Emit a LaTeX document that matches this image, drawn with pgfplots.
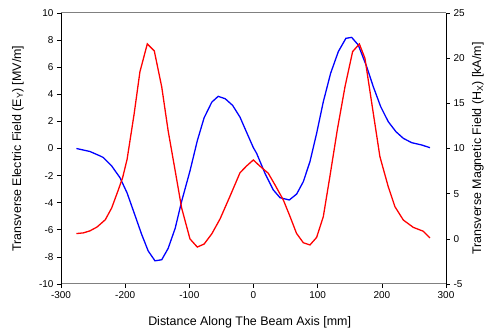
\documentclass[border=0pt]{standalone}
\usepackage{pgfplots}
\pgfplotsset{compat=1.18}
\usepackage{fontspec}
\setmainfont{Liberation Sans}
\begin{document}
\begin{tikzpicture}
\pgfplotsset{
  common/.style={
    width=385bp, height=271bp, scale only axis,
    xmin=-300, xmax=300,
    /pgf/number format/assume math mode=true,
    tick label style={font=\fontsize{10}{12}\selectfont},
    tick align=outside, major tick length=4bp,
    separate axis lines,
    every tick/.style={black, line width=0.6pt},
  }
}
\begin{axis}[common,
  axis x line=box, axis y line*=left,
  x axis line style={gray, line width=1pt},
  y axis line style={black, line width=0.8pt},
  xtick={-300,-200,...,300}, xtick pos=bottom,
  ymin=-10, ymax=10, ytick={-10,-8,...,10}, ytick pos=left,
  xlabel={Distance Along The Beam Axis [mm]},
  ylabel={Transverse Electric Field (E\textsubscript{Y}) [MV/m]},
  xlabel style={at={(axis description cs:0.49,0)}, anchor=center, yshift=-38bp, font=\fontsize{12.5}{14}\selectfont},
  ylabel style={at={(axis description cs:-0.112,0.5)}, anchor=center, font=\fontsize{12.5}{14}\selectfont},
  clip=false,
]
\addplot[blue, line width=1.3pt] coordinates {
(-276,0.00) (-255,-0.22) (-239,-0.55) (-234,-0.67) (-221,-1.29) (-208,-2.16)
(-197,-3.28) (-185,-4.89) (-174,-6.38) (-164,-7.57) (-153.5,-8.29) (-143,-8.21)
(-133,-7.37) (-122,-5.88) (-112,-3.90) (-99,-1.66) (-87.6,0.57) (-77,2.26)
(-65,3.42) (-55,3.85) (-44,3.67) (-32.5,3.18) (-21,2.31) (-10.7,1.19)
(-0.3,0.07) (4.9,-0.36) (17.9,-1.83) (30.9,-3.06) (41.3,-3.63) (55.8,-3.80)
(67.3,-3.36) (77.6,-2.45) (88,-0.97) (98.4,1.12) (108.8,3.45) (120.2,5.55)
(132.2,7.15) (144,8.13) (153,8.20) (163.3,7.64) (176.4,6.04) (186.7,4.56)
(198.2,3.09) (210,1.98) (222,1.24) (233.5,0.75) (246.5,0.43) (262,0.26) (275,0.06)
};
\path (axis description cs:0,0) ++(-61bp,-46bp) rectangle ++(488bp,330bp);
\end{axis}
\begin{axis}[common,
  axis x line=none, axis y line*=right,
  y axis line style={black, line width=0.8pt},
  ymin=-5, ymax=25, ytick={-5,0,...,25}, ytick pos=right,
  ylabel={Transverse Magnetic Field (H\textsubscript{X}) [kA/m]},
  ylabel style={at={(axis description cs:1.083,0.5)}, anchor=center, rotate=0, font=\fontsize{12.5}{14}\selectfont},
]
\addplot[red, line width=1.3pt] coordinates {
(-276,0.58) (-265,0.66) (-255,0.88) (-244,1.30) (-231,2.11) (-221,3.42)
(-211,5.35) (-204,6.76) (-197,8.80) (-186,13.84) (-177,18.49) (-165.5,21.58)
(-154.6,20.80) (-143,16.81) (-133,11.95) (-122,7.51) (-112,3.42) (-99,-0.01)
(-87.6,-0.91) (-77,-0.58) (-65,0.55) (-52,2.22) (-36.6,4.72) (-21,7.32)
(-10.7,8.07) (-0.3,8.73) (10,8.05) (23,7.26) (33.5,5.97) (46.5,4.30)
(57,2.46) (67,0.61) (77.6,-0.43) (88,-0.68) (98.4,0.16) (108.8,2.46)
(119,6.88) (130.6,12.06) (142.6,16.84) (154.5,20.73) (165,21.57) (173.7,19.98)
(186.7,13.90) (197,9.10) (210,5.77) (220.5,3.55) (233.5,2.08) (249,1.27)
(264.6,0.84) (275,0.10)
};
\end{axis}
\end{tikzpicture}
\end{document}
